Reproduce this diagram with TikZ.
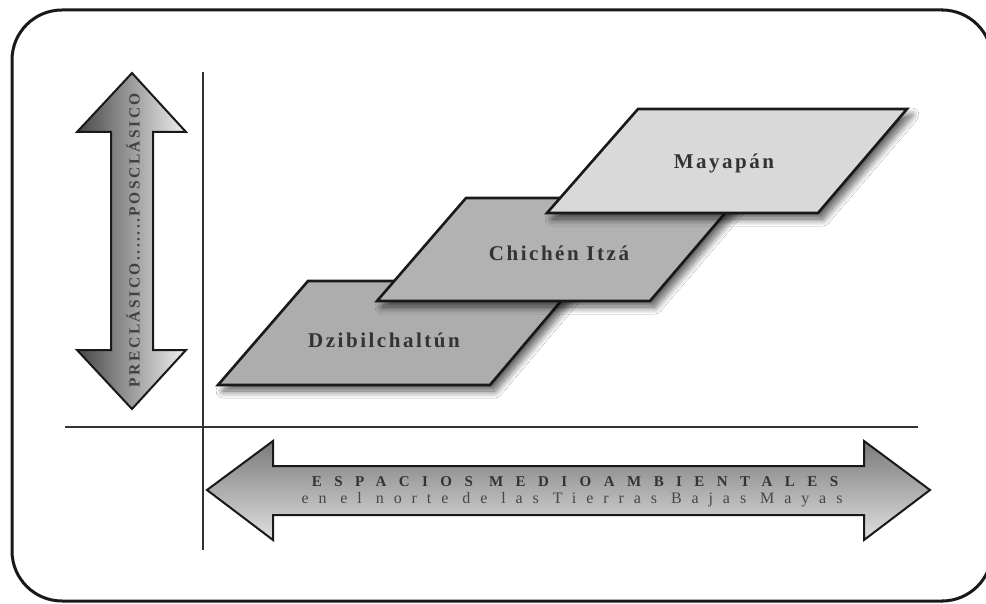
\documentclass[tikz,border=0pt]{standalone}
\usepackage{fontspec}
\setmainfont{Liberation Serif}
\newfontfamily\lblfont[LetterSpace=12]{Liberation Serif}
\newfontfamily\espfont[LetterSpace=83]{Liberation Serif}
\newfontfamily\tierfont[LetterSpace=62]{Liberation Serif}
\newfontfamily\perfont[LetterSpace=16]{Liberation Serif}
\usetikzlibrary{shadows.blur}
\tikzset{
  frameline/.style={draw=black!90, line width=3pt},
  axisline/.style={draw=black!80, line width=1.3pt},
  arrowshape/.style={draw=black!90, line width=2pt, line join=miter},
  para/.style={draw=black!90, line width=2.6pt, line join=miter,
    blur shadow={shadow xshift=5pt, shadow yshift=-6pt, shadow blur radius=7pt,
      shadow blur steps=12, shadow opacity=65}},
  lbl/.style={font=\lblfont\bfseries\fontsize{21}{23}\selectfont, text=black!80, inner sep=0pt},
}
\begin{document}
\begin{tikzpicture}[x=1pt,y=-1pt]
\useasboundingbox (0,0) rectangle (986,604);
\clip (0,0) rectangle (986,604);
\fill[white] (0,0) rectangle (986,604);
% frame: the image cuts its right side
\path[frameline, rounded corners=50pt] (943,10) -- (12,10) -- (12,601) -- (943,601);
\path[frameline] (942,10) arc[start angle=270, end angle=360, radius=50];
\path[frameline] (942,601) arc[start angle=90, end angle=0, radius=50];
% axis lines
\path[axisline] (203,72) -- (203,550);
\path[axisline] (65,427) -- (918,427);
% vertical double arrow
\path[arrowshape, left color=black!72, right color=black!6]
  (132,73) -- (186,132) -- (153,132) -- (153,350) -- (186,350) -- (132,409)
  -- (77,350) -- (111,350) -- (111,132) -- (77,132) -- cycle;
\node[rotate=90, font=\perfont\bfseries\fontsize{15.5}{17}\selectfont, text=black!75, inner sep=0pt]
  (per) at (133,240) {PRECLÁSICO.......POSCLÁSICO};
% horizontal double arrow
\path[arrowshape, top color=black!52, bottom color=black!12]
  (207,490) -- (273,441) -- (273,466) -- (864,466) -- (864,441) -- (930,490)
  -- (864,540) -- (864,515) -- (273,515) -- (273,540) -- cycle;
\node[font=\espfont\bfseries\fontsize{15}{17}\selectfont, text=black!80, inner sep=0pt]
  (esp) at (575,482) {ESPACIOS MEDIOAMBIENTALES};
\node[font=\tierfont\fontsize{16}{18}\selectfont, text=black!72, inner sep=0pt]
  (tier) at (572,500) {en el norte de las Tierras Bajas Mayas};
% parallelograms
\path[para, fill=black!32] (218,385) -- (308,281) -- (578,281) -- (490,385) -- cycle;
\node[lbl] (dzi) at (384,340) {Dzibilchaltún};
\path[para, fill=black!30] (377,301) -- (466,198) -- (738,198) -- (650,301) -- cycle;
\node[lbl] (chi) at (559,253) {Chichén Itzá};
\path[para, fill=black!15] (547,213) -- (638,109) -- (907,109) -- (818,213) -- cycle;
\node[lbl] (may) at (724,163) {Mayapán};
\end{tikzpicture}
\end{document}
